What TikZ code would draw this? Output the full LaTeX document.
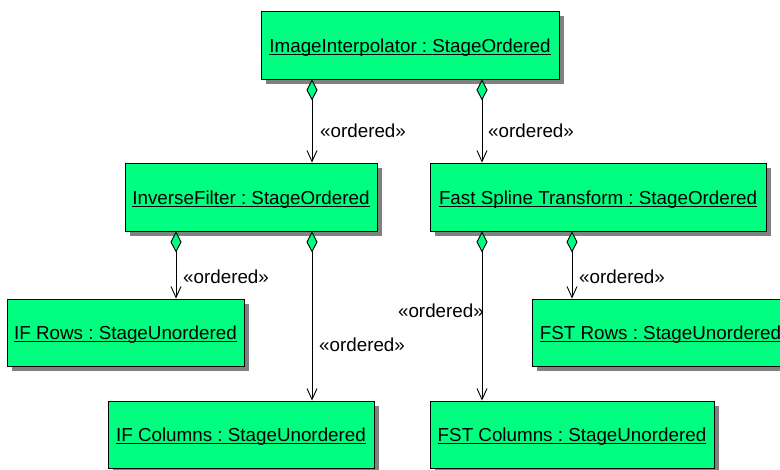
\documentclass[tikz,border=0pt]{standalone}
\usepackage{fontspec}
\setmainfont{Liberation Sans}
\usetikzlibrary{arrows.meta,shadows}

\definecolor{objgreen}{RGB}{0,255,128}
\definecolor{shadowgray}{RGB}{128,128,128}

% underlined object name, rule crossing the descenders as in UML tools
\newcommand\objname[1]{\setbox0\hbox{\frenchspacing#1}\rlap{\rule[-2.3pt]{\wd0}{1.2pt}}\box0}

\tikzset{
  obj/.style={draw=black, line width=0.9pt, fill=objgreen, rectangle,
    inner sep=0pt, text height=15pt, text depth=0pt,
    font=\fontsize{18.8}{22}\selectfont,
    general shadow={fill=shadowgray, shadow xshift=5pt, shadow yshift=-5pt}},
  comp/.style={draw=black, line width=0.9pt,
    {Diamond[length=21pt,width=11pt,fill=objgreen,line width=0.9pt]}-{Straight Barb[length=11pt,width=10pt,line width=0.9pt]}},
  stereo/.style={inner sep=0pt, anchor=base west, font=\fontsize{18.8}{22}\selectfont},
}

\begin{document}
\begin{tikzpicture}[x=1pt,y=-1pt]
\useasboundingbox (0,0) rectangle (780,470);
\clip (0,0) rectangle (780,470);

% object boxes
\node[obj, minimum width=298pt, minimum height=68pt] (ii)  at (410,45)    {\objname{ImageInterpolator : StageOrdered}};
\node[obj, minimum width=252pt, minimum height=68pt] (inv) at (251,197)   {\objname{InverseFilter : StageOrdered}};
\node[obj, minimum width=336pt, minimum height=68pt] (fst) at (598,197)   {\objname{Fast Spline Transform : StageOrdered}};
\node[obj, minimum width=237pt, minimum height=67pt] (ifr) at (125.5,332.5) {\objname{IF Rows : StageUnordered}};
\node[obj, minimum width=257pt, minimum height=67pt] (fsr) at (660.5,332.5) {\objname{FST Rows : StageUnordered}};
\node[obj, minimum width=266pt, minimum height=67pt] (ifc) at (241,434.5) {\objname{IF Columns : StageUnordered}};
\node[obj, minimum width=284pt, minimum height=67pt] (fsc) at (572,434.5) {\objname{FST Columns : StageUnordered}};

% columns of the composition links
\coordinate (xa) at (312,0);
\coordinate (xb) at (482,0);
\coordinate (xc) at (176,0);
\coordinate (xd) at (572,0);

% composition links
\draw[comp] (ii.south -| xa)  -- (inv.north -| xa);
\draw[comp] (ii.south -| xb)  -- (fst.north -| xb);
\draw[comp] (inv.south -| xc) -- (ifr.north -| xc);
\draw[comp] (inv.south -| xa) -- (ifc.north -| xa);
\draw[comp] (fst.south -| xb) -- (fsc.north -| xb);
\draw[comp] (fst.south -| xd) -- (fsr.north -| xd);

% stereotypes
\node[stereo] (s1) at (320,138) {«ordered»};
\node[stereo] (s2) at (488,138) {«ordered»};
\node[stereo] (s3) at (183,284) {«ordered»};
\node[stereo] (s4) at (319,352) {«ordered»};
\node[stereo, anchor=base east] (s5) at (484,318) {«ordered»};
\node[stereo] (s6) at (579,284) {«ordered»};
\end{tikzpicture}
\end{document}
